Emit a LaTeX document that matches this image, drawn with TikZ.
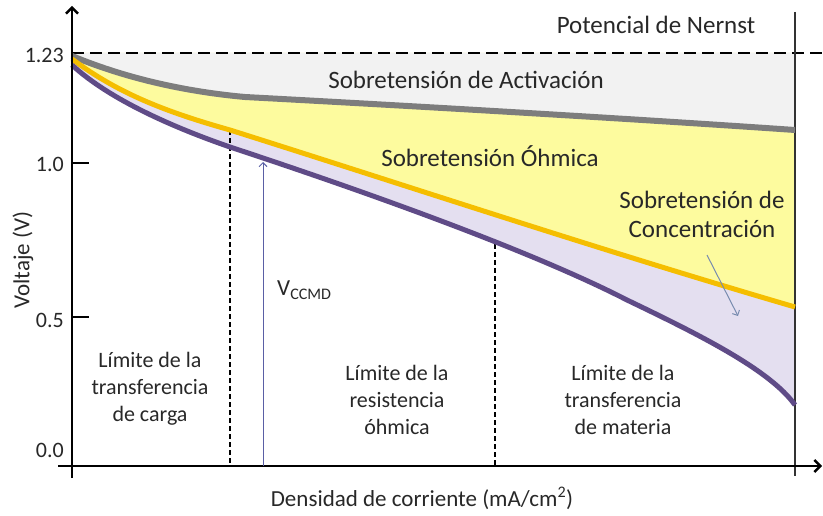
\documentclass[tikz,border=0pt]{standalone}
\usepackage{fontspec}
\setmainfont{Carlito}
\usetikzlibrary{arrows.meta}
\definecolor{fillgray}{RGB}{242,242,242}
\definecolor{fillyellow}{RGB}{253,251,158}
\definecolor{filllav}{RGB}{228,223,240}
\definecolor{curvegray}{RGB}{125,125,125}
\definecolor{curveorange}{RGB}{245,190,0}
\definecolor{curvepurple}{RGB}{95,75,135}
\definecolor{txt}{RGB}{40,40,40}
\definecolor{arrblue}{RGB}{90,95,165}
\definecolor{arrgray}{RGB}{120,140,175}
\tikzset{
  lbl/.style={font=\fontsize{22}{27}\selectfont, text=txt, inner sep=0pt, align=center},
  biglbl/.style={lbl, font=\fontsize{25}{29}\selectfont},
  axlbl/.style={lbl, font=\fontsize{23}{27}\selectfont},
  axisline/.style={line width=2.4pt, black},
  guide/.style={line width=1.1pt, black, dash pattern=on 5pt off 3pt},
}
\begin{document}
\begin{tikzpicture}[x=1pt,y=-1pt]
\useasboundingbox (0,0) rectangle (823,516);
% fills
\fill[filllav] (72,65) .. controls (110,100) and (175,128) .. (230,147) .. controls (330,180) and (520,245) .. (627,300) .. controls (700,335) and (770,370) .. (795,405) -- (795,53) -- (72,53) -- cycle;
\fill[fillyellow] (72,59) .. controls (120,95) and (170,113) .. (230,130) .. controls (420,190) and (600,250) .. (795,307) -- (795,53) -- (72,53) -- cycle;
\fill[fillgray] (72,56) .. controls (130,80) and (190,92) .. (245,97) .. controls (450,108) and (650,120) .. (795,130) -- (795,53) -- (72,53) -- cycle;
% guide lines
\coordinate (g1t) at (230,130);
\coordinate (g1b) at (230,466);
\coordinate (g2t) at (495,244);
\coordinate (g2b) at (495,466);
\draw[guide] (g1t) -- (g1b);
\draw[guide] (g2t) -- (g2b);
% Nernst line
\coordinate (n1) at (72,53);
\coordinate (n2) at (823,53);
\draw[line width=1.5pt, dash pattern=on 12pt off 6pt] (n1) -- (n2);
% right limit line
\coordinate (r1) at (795,12);
\coordinate (r2) at (795,476);
\draw[line width=1.4pt, black!80] (r1) -- (r2);
% curves
\draw[curvegray, line width=6pt] (72,56) .. controls (130,80) and (190,92) .. (245,97) .. controls (450,108) and (650,120) .. (795,130);
\draw[curveorange, line width=5pt] (72,59) .. controls (120,95) and (170,113) .. (230,130) .. controls (420,190) and (600,250) .. (795,307);
\draw[curvepurple, line width=5pt] (72,65) .. controls (110,100) and (175,128) .. (230,147) .. controls (330,180) and (520,245) .. (627,300) .. controls (700,335) and (770,370) .. (795,405);
% axes
\coordinate (yb) at (72,478);
\coordinate (yt) at (72,6);
\coordinate (xl) at (58,466);
\coordinate (xr) at (822,466);
\draw[axisline, -{Straight Barb[length=6pt,width=12pt]}] (yb) -- (yt);
\draw[axisline, -{Straight Barb[length=6pt,width=12pt]}] (xl) -- (xr);
\coordinate (t1a) at (72,163);
\coordinate (t1b) at (89,163);
\coordinate (t2a) at (72,317);
\coordinate (t2b) at (89,317);
\draw[axisline] (t1a) -- (t1b);
\draw[axisline] (t2a) -- (t2b);
% tick labels
\node[lbl, anchor=east] (l123) at (64,55) {1.23};
\node[lbl, anchor=east] (l10) at (64,164) {1.0};
\node[lbl, anchor=east] (l05) at (64,320) {0.5};
\node[lbl, anchor=east] (l00) at (64,450) {0.0};
% V_CCMD arrow
\coordinate (vb) at (263,466);
\coordinate (vt) at (263,162);
\draw[arrblue, line width=1pt, -{Straight Barb[length=4pt,width=8pt]}] (vb) -- (vt);
\node[axlbl, anchor=west] (vccmd) at (277,290) {V\textsubscript{CCMD}};
% concentration arrow
\coordinate (ca) at (707,255);
\coordinate (cb) at (738,316);
\draw[arrgray, line width=1pt, -{Straight Barb[length=4pt,width=8pt]}] (ca) -- (cb);
% labels
\node[biglbl] (nernst) at (656,25) {Potencial de Nernst};
\node[biglbl] (act) at (466,80) {Sobretensión de Activación};
\node[biglbl] (ohm) at (490,156) {Sobretensión Óhmica};
\node[biglbl] (conc) at (702,214) {Sobretensión de\\Concentración};
\node[lbl] (lim1) at (150,389) {Límite de la\\transferencia\\de carga};
\node[lbl] (lim2) at (397,400) {Límite de la\\resistencia\\óhmica};
\node[lbl] (lim3) at (623,400) {Límite de la\\transferencia\\de materia};
\node[axlbl, rotate=90] (ylab) at (23,260) {Voltaje (V)};
\node[axlbl] (xlab) at (422,498) {Densidad de corriente (mA/cm\textsuperscript{2})};
\end{tikzpicture}
\end{document}
